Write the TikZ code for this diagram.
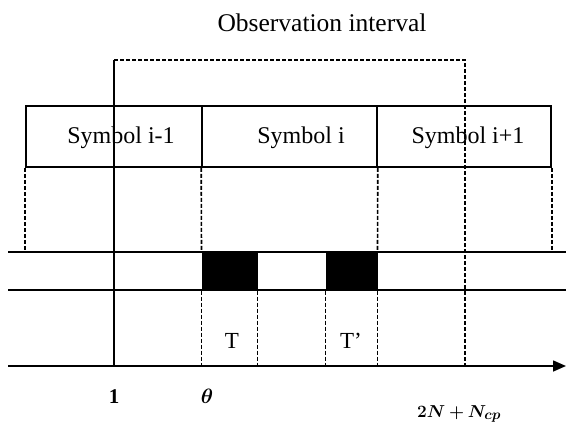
\documentclass[tikz,border=0pt]{standalone}
\usepackage{amsmath,bm}
\usepackage{fontspec}
\setmainfont{Liberation Serif}
\usetikzlibrary{arrows.meta,positioning,calc}
\tikzset{
  td/symbol/.style={draw, line width=1.6pt, minimum height=61pt, inner sep=0pt},
  td/pilot/.style={draw, fill=black, line width=1pt, minimum height=38pt, inner sep=0pt},
  td/text/.style={font=\fontsize{24}{28}\selectfont, inner sep=0pt},
  td/small/.style={font=\fontsize{23}{27}\selectfont, inner sep=0pt},
  td/tick/.style={font=\fontsize{21}{25}\selectfont, inner sep=0pt},
  td/line/.style={line width=1.6pt},
  td/dash/.style={line width=1.6pt, dash pattern=on 4pt off 2pt},
  td/axis/.style={line width=1.6pt, -{Triangle[length=13pt,width=11pt]}}
}

\begin{document}
\begin{tikzpicture}[x=1pt, y=-1pt]
  \useasboundingbox (0,0) rectangle (566,426);

  \node[td/text, font=\fontsize{25.5}{30}\selectfont] (title) at (322,23) {Observation interval};

  \node[td/symbol, minimum width=176pt] (symprev) at (114,136.5) {};
  \node[td/symbol, minimum width=175pt] (symcur) at (289.5,136.5) {};
  \node[td/symbol, minimum width=174pt] (symnext) at (464,136.5) {};

  \node[td/text] (lprev) at (121,138) {Symbol i-1};
  \node[td/text] (lcur) at (301,138) {Symbol i};
  \node[td/text] (lnext) at (468,138) {Symbol i+1};

  \node[td/pilot, minimum width=55pt] (pilotT) at (229.5,271) {};
  \node[td/pilot, minimum width=51pt] (pilotTp) at (351.5,271) {};

  \coordinate (upw) at (8,252);   \coordinate (upe) at (566,252);
  \coordinate (loww) at (8,290);  \coordinate (lowe) at (566,290);
  \coordinate (axw) at (8,366);   \coordinate (axe) at (566,366);

  \draw[td/line] (upw) -- (upe);
  \draw[td/line] (loww) -- (lowe);
  \draw[td/axis] (axw) -- (axe);

  % observation interval
  \coordinate (obsL) at (114,60);
  \coordinate (obsR) at (465,60);
  \coordinate (one) at (114,366);
  \coordinate (last) at (465,366);
  \draw[td/line] (obsL) -- (one);
  \draw[td/dash] (obsL) -- (obsR) -- (last);

  \draw[td/dash] (symprev.south west) -- (symprev.south west |- upw);
  \draw[td/dash] (symnext.south east) -- (symnext.south east |- upe);
  \draw[td/dash] (symcur.south west) -- (pilotT.north west);
  \draw[td/dash] (symcur.south east) -- (pilotTp.north east);

  \draw[td/dash] (pilotT.south west) -- (pilotT.south west |- axw);
  \draw[td/dash] (pilotT.south east) -- (pilotT.south east |- axw);
  \draw[td/dash] (pilotTp.south west) -- (pilotTp.south west |- axw);
  \draw[td/dash] (pilotTp.south east) -- (pilotTp.south east |- axw);

  \node[td/small] (lT) at (232,341) {T};
  \node[td/small] (lTp) at (351,341) {T’};

  \node[td/tick] (lone) at (114,397) {\textbf{1}};
  \node[td/tick] (ltheta) at (207,396) {$\bm{\theta}$};
  \node[td/tick, font=\fontsize{19}{23}\selectfont] (lend) at (459,414) {$\bm{2N+N_{cp}}$};
\end{tikzpicture}
\end{document}
